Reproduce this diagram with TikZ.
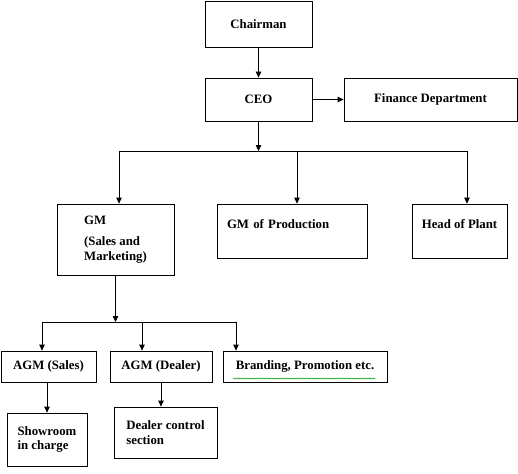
\documentclass[tikz,border=0pt]{standalone}
\usepackage{fontspec}
\setmainfont{Liberation Serif}
\usetikzlibrary{arrows.meta,decorations.pathmorphing}

\begin{document}
\begin{tikzpicture}[
    x=1pt, y=-1pt,
    every path/.style={line width=0.8pt},
    box/.style={draw, rectangle, inner sep=0pt, align=center,
        font=\fontsize{12.8}{14.5}\selectfont\bfseries},
    arr/.style={-{Triangle[length=6pt,width=5.5pt]}}
]
\path[use as bounding box, fill=white] (0,0) rectangle (518,473);

    \node[box, minimum width=107pt, minimum height=46pt] (chair) at (258.5,24) {Chairman};
    \node[box, minimum width=107pt, minimum height=43pt] (ceo) at (258.5,99.5) {CEO};
    \node[box, minimum width=173pt, minimum height=43pt] (fin) at (430.5,99.5) {Finance Department};

    \node[box, align=left, minimum width=117pt, minimum height=71pt] (gm) at (115.5,239.5)
        {GM\\[7pt](Sales and\\Marketing)};
    \node[box, text width=130pt, align=left, text depth=14pt,
        minimum width=150pt, minimum height=54pt] (prod) at (292,231) {GM of Production};
    \node[box, text depth=14pt, minimum width=95pt, minimum height=54pt] (head) at (459.5,231) {Head of Plant};

    \node[box, minimum width=95pt, minimum height=31pt] (asales) at (48.5,366.5) {AGM (Sales)};
    \node[box, minimum width=102pt, minimum height=31pt] (adeal) at (161,366.5) {AGM (Dealer)};
    \node[box, minimum width=164pt, minimum height=31pt] (brand) at (305,366.5) {Branding, Promotion etc.};

    \node[box, align=left, minimum width=80pt, minimum height=53pt] (show) at (47,439.5) {Showroom\\in charge};
    \node[box, align=left, minimum width=103pt, minimum height=51pt] (dctl) at (165.5,432.5) {Dealer control\\section};

    \coordinate (j1) at (258.5,151);
    \coordinate (j1l) at (119,151);
    \coordinate (j1m) at (297,151);
    \coordinate (j1r) at (467,151);
    \coordinate (j2) at (115.5,322);
    \coordinate (j2l) at (42,322);
    \coordinate (j2m) at (142,322);
    \coordinate (j2r) at (236,322);

    \draw[arr] (chair) -- (ceo);
    \draw[arr] (ceo) -- (fin);
    \draw[arr] (ceo) -- (j1);
    \draw (j1l) -- (j1r);
    \draw[arr] (j1l) -- (j1l |- gm.north);
    \draw[arr] (j1m) -- (j1m |- prod.north);
    \draw[arr] (j1r) -- (j1r |- head.north);

    \draw[arr] (gm) -- (j2);
    \draw (j2l) -- (j2r);
    \draw[arr] (j2l) -- (j2l |- asales.north);
    \draw[arr] (j2m) -- (j2m |- adeal.north);
    \draw[arr] (j2r) -- (j2r |- brand.north);

    \draw[arr] (asales.south -| show.north) -- (show);
    \draw[arr] (adeal) -- (adeal |- dctl.north);

    % spell-check squiggle
    \draw[green!60!black, line width=0.5pt, decorate,
        decoration={snake, amplitude=0.6pt, segment length=2.5pt}]
        (233,378.5) -- (375,378.5);
\end{tikzpicture}
\end{document}
